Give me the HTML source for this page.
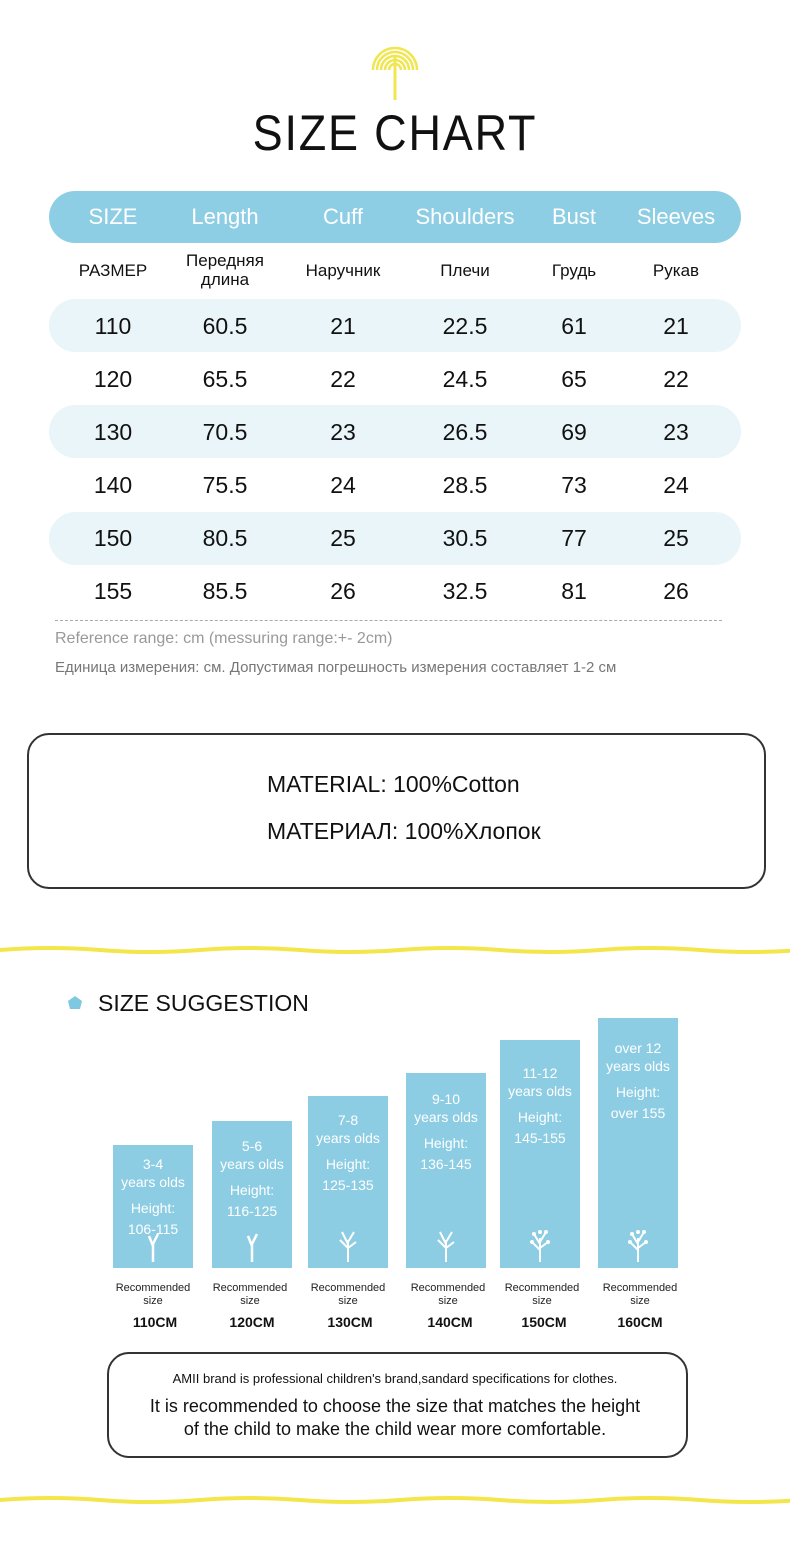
<!DOCTYPE html><html><head><meta charset="utf-8"><style>
body{margin:0;width:790px;height:1561px;background:#fff;position:relative;font-family:"Liberation Sans",sans-serif;color:#111;overflow:hidden}
.a{position:absolute}
.c{position:absolute;text-align:center;transform:translateX(-50%);white-space:nowrap}
.pill{position:absolute;left:49px;width:692px;border-radius:27px}
.bar{position:absolute;background:#8dcde3;width:80px;color:#fff;text-align:center;font-size:14px;line-height:18px}
.tree{position:absolute;left:28px;bottom:6px}
</style></head><body>
<svg class="a" style="left:365px;top:35px" width="60" height="70" viewBox="0 0 60 70">
<g fill="none" stroke="#efe650" stroke-width="2.5">
<path d="M8 35 A22 22 0 0 1 52 35"/><path d="M12 35 A18 18 0 0 1 48 35"/><path d="M16 35 A14 14 0 0 1 44 35"/><path d="M20 35 A10 10 0 0 1 40 35"/><path d="M24 35 A6 6 0 0 1 36 35"/><path d="M30 20 L30 65" stroke-width="3"/></g></svg>
<div class="c" style="left:395px;top:104px;font-size:50px;letter-spacing:2px;transform:translateX(-50%) scaleX(0.9)">SIZE CHART</div>
<div class="pill" style="top:191px;height:52px;background:#8dcee4"></div>
<div class="pill" style="top:299px;height:53px;background:#e9f5f9"></div>
<div class="pill" style="top:405px;height:53px;background:#e9f5f9"></div>
<div class="pill" style="top:512px;height:53px;background:#e9f5f9"></div>
<div style="color:#fff;font-size:22px">
<div class="c" style="left:113px;top:204px">SIZE</div><div class="c" style="left:225px;top:204px">Length</div><div class="c" style="left:343px;top:204px">Cuff</div><div class="c" style="left:465px;top:204px">Shoulders</div><div class="c" style="left:574px;top:204px">Bust</div><div class="c" style="left:676px;top:204px">Sleeves</div></div>
<div style="font-size:17px">
<div class="c" style="left:113px;top:261px">РАЗМЕР</div><div class="c" style="left:225px;top:251px;line-height:19px">Передняя<br>длина</div><div class="c" style="left:343px;top:261px">Наручник</div><div class="c" style="left:465px;top:261px">Плечи</div><div class="c" style="left:574px;top:261px">Грудь</div><div class="c" style="left:676px;top:261px">Рукав</div></div>
<div style="font-size:23px">
<div class="c" style="left:113px;top:313px">110</div><div class="c" style="left:225px;top:313px">60.5</div><div class="c" style="left:343px;top:313px">21</div><div class="c" style="left:465px;top:313px">22.5</div><div class="c" style="left:574px;top:313px">61</div><div class="c" style="left:676px;top:313px">21</div>
<div class="c" style="left:113px;top:366px">120</div><div class="c" style="left:225px;top:366px">65.5</div><div class="c" style="left:343px;top:366px">22</div><div class="c" style="left:465px;top:366px">24.5</div><div class="c" style="left:574px;top:366px">65</div><div class="c" style="left:676px;top:366px">22</div>
<div class="c" style="left:113px;top:419px">130</div><div class="c" style="left:225px;top:419px">70.5</div><div class="c" style="left:343px;top:419px">23</div><div class="c" style="left:465px;top:419px">26.5</div><div class="c" style="left:574px;top:419px">69</div><div class="c" style="left:676px;top:419px">23</div>
<div class="c" style="left:113px;top:472px">140</div><div class="c" style="left:225px;top:472px">75.5</div><div class="c" style="left:343px;top:472px">24</div><div class="c" style="left:465px;top:472px">28.5</div><div class="c" style="left:574px;top:472px">73</div><div class="c" style="left:676px;top:472px">24</div>
<div class="c" style="left:113px;top:525px">150</div><div class="c" style="left:225px;top:525px">80.5</div><div class="c" style="left:343px;top:525px">25</div><div class="c" style="left:465px;top:525px">30.5</div><div class="c" style="left:574px;top:525px">77</div><div class="c" style="left:676px;top:525px">25</div>
<div class="c" style="left:113px;top:578px">155</div><div class="c" style="left:225px;top:578px">85.5</div><div class="c" style="left:343px;top:578px">26</div><div class="c" style="left:465px;top:578px">32.5</div><div class="c" style="left:574px;top:578px">81</div><div class="c" style="left:676px;top:578px">26</div></div>
<div class="a" style="left:55px;top:620px;width:667px;border-top:1px dashed #aaa"></div>
<div class="a" style="left:55px;top:630px;font-size:16px;color:#999">Reference range: cm (messuring range:+- 2cm)</div>
<div class="a" style="left:55px;top:659px;font-size:15px;color:#777">Единица измерения: см. Допустимая погрешность измерения составляет 1-2 см</div>
<div class="a" style="left:27px;top:733px;width:735px;height:152px;border:2px solid #333;border-radius:22px"></div>
<div class="a" style="left:267px;top:771px;font-size:23px">MATERIAL: 100%Cotton</div>
<div class="a" style="left:267px;top:818px;font-size:23px">МАТЕРИАЛ: 100%Хлопок</div>
<svg class="a" style="left:0;top:940px" width="790" height="20"><path d="M0 10 Q50 6 100 10 T200 10 T300 10 T400 10 T500 10 T600 10 T700 10 T800 10" stroke="#f3e64a" stroke-width="4" fill="none"/></svg>
<svg class="a" style="left:0;top:1490px" width="790" height="20"><path d="M0 10 Q50 6 100 10 T200 10 T300 10 T400 10 T500 10 T600 10 T700 10 T800 10" stroke="#f3e64a" stroke-width="4" fill="none"/></svg>
<svg class="a" style="left:67px;top:995px" width="16" height="16"><polygon points="8,1 15,6 13,14 3,14 1,6" fill="#7fc9e0"/></svg>
<div class="a" style="left:98px;top:990px;font-size:23px">SIZE SUGGESTION</div>
<div class="bar" style="left:113px;top:1145px;height:123px;padding-top:10px;box-sizing:border-box">3-4<br>years olds<br><div style="height:8px"></div>Height:<br><div style="height:3px"></div>106-115<svg class="tree" width="24" height="34"><path d="M12 34V14M12 18L8 8M12 16L17 6" stroke="#fff" stroke-width="2.5" fill="none"/></svg></div>
<div class="bar" style="left:212px;top:1121px;height:147px;padding-top:16px;box-sizing:border-box">5-6<br>years olds<br><div style="height:8px"></div>Height:<br><div style="height:3px"></div>116-125<svg class="tree" width="24" height="34"><path d="M12 34V14M12 18L8 8M12 16L17 6" stroke="#fff" stroke-width="2.5" fill="none"/></svg></div>
<div class="bar" style="left:308px;top:1096px;height:172px;padding-top:15px;box-sizing:border-box">7-8<br>years olds<br><div style="height:8px"></div>Height:<br><div style="height:3px"></div>125-135<svg class="tree" width="24" height="34"><path d="M12 34V12M12 20L4 12M12 16L6 4M12 14L18 4M12 20L20 14" stroke="#fff" stroke-width="2" fill="none"/></svg></div>
<div class="bar" style="left:406px;top:1073px;height:195px;padding-top:17px;box-sizing:border-box">9-10<br>years olds<br><div style="height:8px"></div>Height:<br><div style="height:3px"></div>136-145<svg class="tree" width="24" height="34"><path d="M12 34V12M12 20L4 12M12 16L6 4M12 14L18 4M12 20L20 14" stroke="#fff" stroke-width="2" fill="none"/></svg></div>
<div class="bar" style="left:500px;top:1040px;height:228px;padding-top:24px;box-sizing:border-box">11-12<br>years olds<br><div style="height:8px"></div>Height:<br><div style="height:3px"></div>145-155<svg class="tree" width="24" height="34"><path d="M12 34V10M12 22L4 14M12 16L6 6M12 14L18 4M12 20L20 14" stroke="#fff" stroke-width="2" fill="none"/><g fill="#fff"><circle cx="4" cy="14" r="2"/><circle cx="6" cy="6" r="2"/><circle cx="18" cy="4" r="2"/><circle cx="20" cy="14" r="2"/><circle cx="12" cy="4" r="2"/></g></svg></div>
<div class="bar" style="left:598px;top:1018px;height:250px;padding-top:21px;box-sizing:border-box">over 12<br>years olds<br><div style="height:8px"></div>Height:<br><div style="height:3px"></div>over 155<svg class="tree" width="24" height="34"><path d="M12 34V10M12 22L4 14M12 16L6 6M12 14L18 4M12 20L20 14" stroke="#fff" stroke-width="2" fill="none"/><g fill="#fff"><circle cx="4" cy="14" r="2"/><circle cx="6" cy="6" r="2"/><circle cx="18" cy="4" r="2"/><circle cx="20" cy="14" r="2"/><circle cx="12" cy="4" r="2"/></g></svg></div>
<div style="font-size:11px;line-height:13px;color:#222">
<div class="c" style="left:153px;top:1282px">Recommended<br>size</div><div class="c" style="left:250px;top:1282px">Recommended<br>size</div><div class="c" style="left:348px;top:1282px">Recommended<br>size</div><div class="c" style="left:448px;top:1282px">Recommended<br>size</div><div class="c" style="left:542px;top:1282px">Recommended<br>size</div><div class="c" style="left:640px;top:1282px">Recommended<br>size</div></div>
<div style="font-size:14px;font-weight:bold">
<div class="c" style="left:155px;top:1314px">110CM</div><div class="c" style="left:252px;top:1314px">120CM</div><div class="c" style="left:350px;top:1314px">130CM</div><div class="c" style="left:450px;top:1314px">140CM</div><div class="c" style="left:544px;top:1314px">150CM</div><div class="c" style="left:640px;top:1314px">160CM</div></div>
<div class="a" style="left:107px;top:1352px;width:577px;height:102px;border:2px solid #333;border-radius:22px"></div>
<div class="c" style="left:395px;top:1371px;font-size:13px">AMII brand is professional children's brand,sandard specifications for clothes.</div>
<div class="c" style="left:395px;top:1395px;font-size:18px;line-height:23px;text-align:center">It is recommended to choose the size that matches the height<br>of the child to make the child wear more comfortable.</div>
</body></html>
